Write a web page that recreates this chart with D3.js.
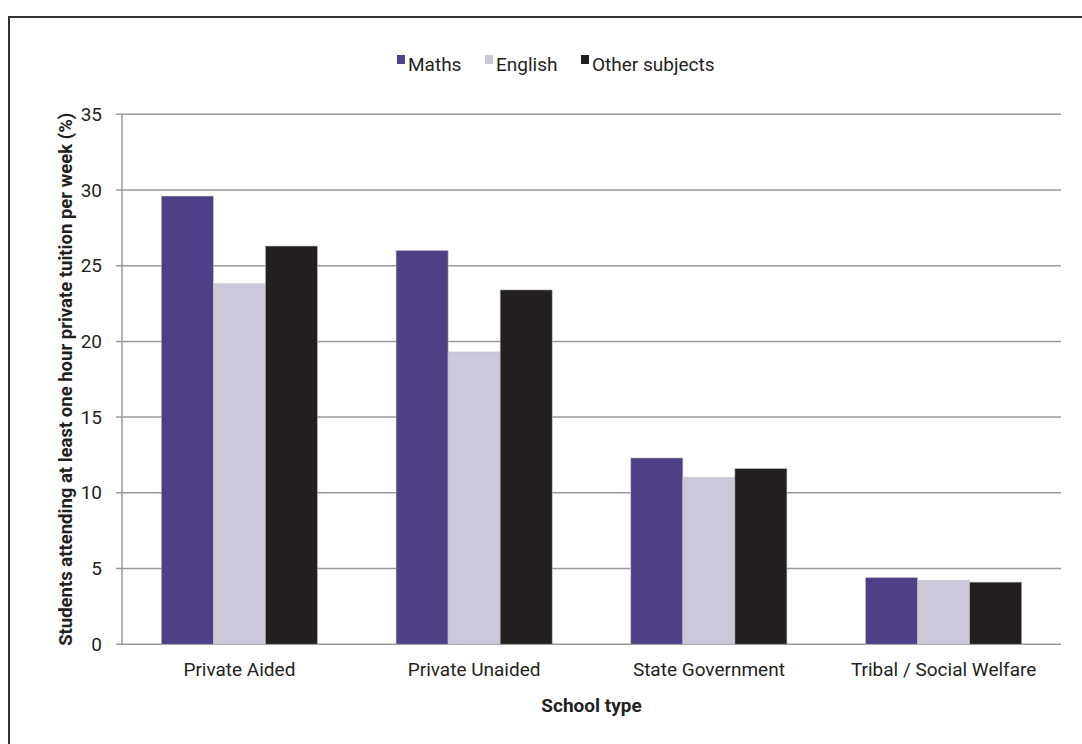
<!DOCTYPE html>
<html>
<head>
<meta charset="utf-8">
<script src="https://cdn.jsdelivr.net/npm/d3@7"></script>
<style>
  html, body { margin: 0; padding: 0; background: #fff; }
  svg { display: block; }
  text { font-family: Roboto, "DejaVu Sans Condensed", sans-serif; fill: #231f20; }
</style>
</head>
<body>
<svg id="chart" width="1082" height="744"></svg>
<script>
// School types along the x axis
const categories = ["Private Aided", "Private Unaided", "State Government", "Tribal / Social Welfare"];
// Subject series and their share of students (%)
const seriesNames = ["Maths", "English", "Other subjects"];
const maths   = [29.6, 26.0, 12.3, 4.4];
const english = [23.8, 19.3, 11.0, 4.2];
const other   = [26.3, 23.4, 11.6, 4.1];
const yTicks  = [0, 5, 10, 15, 20, 25, 30, 35];
const colors  = ["#4f3f86", "#ccc8da", "#231f20"];

const seriesValues = [maths, english, other];
const FONT = "Roboto, 'DejaVu Sans Condensed', sans-serif";

const svg = d3.select("#chart");
const W = 1082, H = 744;
const plotLeft = 122, plotTop = 114.3, plotRight = 1061, plotBottom = 644.2;

// outer frame
svg.append("rect")
  .attr("x", 9).attr("y", 17)
  .attr("width", W + 20).attr("height", H + 20)
  .attr("fill", "none").attr("stroke", "#333").attr("stroke-width", 2);

const x0 = d3.scaleBand().domain(categories).range([plotLeft, plotRight]).paddingInner(0.335).paddingOuter(0.1675);
const x1 = d3.scaleBand().domain(seriesNames).range([0, x0.bandwidth()]);
const y = d3.scaleLinear().domain([0, 35]).range([plotBottom, plotTop]);

// horizontal gridlines
svg.append("g")
  .selectAll("line")
  .data(yTicks)
  .join("line")
  .attr("x1", plotLeft - 6).attr("x2", plotRight)
  .attr("y1", d => y(d)).attr("y2", d => y(d))
  .attr("stroke", "#999").attr("stroke-width", 1.5);

// y axis line
svg.append("line")
  .attr("x1", plotLeft).attr("x2", plotLeft)
  .attr("y1", y(35)).attr("y2", y(0))
  .attr("stroke", "#999").attr("stroke-width", 1.5);

// y tick labels
const yAxis = d3.axisLeft(y).tickValues(yTicks).tickSize(0).tickPadding(20);
const gy = svg.append("g").attr("transform", `translate(${plotLeft},0)`).call(yAxis);
gy.select(".domain").remove();
gy.selectAll("text")
  .attr("font-size", 19)
  .style("font-family", FONT)
  .attr("fill", "#231f20");

// bars
const groups = svg.append("g")
  .selectAll("g")
  .data(categories)
  .join("g")
  .attr("transform", d => `translate(${x0(d)},0)`);

groups.selectAll("rect")
  .data((c, i) => seriesNames.map((s, j) => ({ s, v: seriesValues[j][i], j })))
  .join("rect")
  .attr("x", d => x1(d.s))
  .attr("y", d => y(d.v))
  .attr("width", x1.bandwidth())
  .attr("height", d => y(0) - y(d.v))
  .attr("fill", d => colors[d.j])
  .attr("stroke", "#bbb")
  .attr("stroke-width", 0.6);

// category labels
const xAxis = d3.axisBottom(x0).tickSize(0).tickPadding(18);
const gx = svg.append("g").attr("transform", `translate(0,${plotBottom})`).call(xAxis);
gx.select(".domain").remove();
gx.selectAll("text")
  .attr("font-size", 19)
  .style("font-family", FONT)
  .attr("fill", "#231f20");

// axis titles
svg.append("text")
  .attr("x", (plotLeft + plotRight) / 2)
  .attr("y", 712)
  .attr("text-anchor", "middle")
  .attr("font-size", 19)
  .attr("font-weight", "bold")
  .text("School type");

svg.append("text")
  .attr("transform", `translate(72,${(y(0) + y(35)) / 2}) rotate(-90)`)
  .attr("text-anchor", "middle")
  .attr("font-size", 18.5)
  .attr("font-weight", "bold")
  .text("Students attending at least one hour private tuition per week (%)");

// legend
const legendX = [397, 485, 581];
const legend = svg.append("g")
  .selectAll("g")
  .data(seriesNames)
  .join("g")
  .attr("transform", (d, i) => `translate(${legendX[i]},0)`);
legend.append("rect")
  .attr("x", 0).attr("y", 55)
  .attr("width", 8).attr("height", 9)
  .attr("fill", (d, i) => colors[i]);
legend.append("text")
  .attr("x", 11).attr("y", 70.5)
  .attr("font-size", 19)
  .text(d => d);
</script>
</body>
</html>
